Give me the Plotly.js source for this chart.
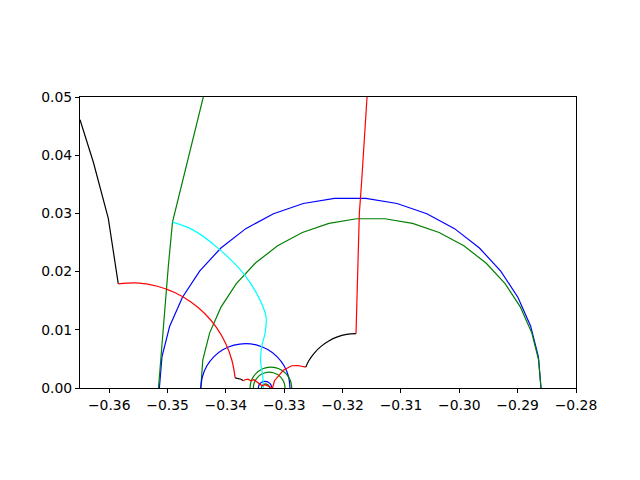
<!DOCTYPE html>
<html>
<head>
<meta charset="utf-8">
<script src="https://cdn.plot.ly/plotly-3.0.1.min.js"></script>
<style>html,body{margin:0;padding:0;background:#fff;}#chart{width:640px;height:480px;}</style>
</head>
<body>
<div id="chart"></div>
<script>
// ---- data ----
const blackTopX = [-0.3650, -0.36272, -0.36015, -0.35844];
const blackTopY = [0.0461, 0.03883, 0.02913, 0.0179];

const redArcX = [-0.35844, -0.35485, -0.35175, -0.34878, -0.34605, -0.34363, -0.34160, -0.34003, -0.33895, -0.33841];
const redArcY = [0.0179, 0.01803, 0.01748, 0.01640, 0.01483, 0.01280, 0.01038, 0.00765, 0.00468, 0.00175];

const blackSmallX = [-0.33841, -0.33792, -0.33741, -0.33701];
const blackSmallY = [0.00175, 0.00168, 0.00151, 0.00125];

const redBumpsX = [-0.33701, -0.33672, -0.33621, -0.33569, -0.33518, -0.33472, -0.33432, -0.33381, -0.33329, -0.33278, -0.33227, -0.33201,
                   -0.33167, -0.33102, -0.33016, -0.32872, -0.32764, -0.32630];
const redBumpsY = [0.00125, 0.00142, 0.00151, 0.00125, 0.00142, 0.00108, 0.00074, 0.00039, 0.00057, 0.00031, 0.00014, 0.0,
                   0.00125, 0.00199, 0.00305, 0.00382, 0.00386, 0.00360];

const blackArcX = [-0.32630, -0.32579, -0.32485, -0.32370, -0.32237, -0.32089, -0.31932, -0.31770];
const blackArcY = [0.00360, 0.00467, 0.00600, 0.00715, 0.00809, 0.00878, 0.00920, 0.00934];

const redRiseX = [-0.31770, -0.31748, -0.31713, -0.31672, -0.31581];
const redRiseY = [0.00934, 0.01856, 0.03000, 0.03570, 0.05000];

const greenRiseX = [-0.35155, -0.35072, -0.34987, -0.34915, -0.34644, -0.34387];
const greenRiseY = [0.0, 0.01114, 0.02084, 0.02850, 0.03969, 0.05000];

const cyanX = [-0.34915, -0.34558, -0.34130, -0.33701, -0.33444, -0.33312, -0.33329, -0.33386, -0.33406, -0.33369, -0.33355];
const cyanY = [0.02850, 0.02713, 0.02399, 0.01971, 0.01570, 0.01227, 0.00943, 0.00713, 0.00485, 0.00199, 0.0];

const blueBigX = [-0.35140, -0.35095, -0.34963, -0.34746, -0.34450, -0.34085, -0.33659, -0.33184, -0.32673, -0.32140,
                  -0.31600, -0.31067, -0.30556, -0.30081, -0.29655, -0.29290, -0.28994, -0.28777, -0.28645, -0.28600];
const blueBigY = [0.0, 0.00538, 0.01062, 0.01556, 0.02008, 0.02406, 0.02738, 0.02995, 0.03170, 0.03259,
                  0.03259, 0.03170, 0.02995, 0.02738, 0.02406, 0.02008, 0.01556, 0.01062, 0.00538, 0.0];

const greenBigX = [-0.34430, -0.34396, -0.34278, -0.34084, -0.33821, -0.33494, -0.33114, -0.32690, -0.32234, -0.31759,
                   -0.31277, -0.30802, -0.30346, -0.29922, -0.29542, -0.29215, -0.28952, -0.28758, -0.28640, -0.28600];
const greenBigY = [0.0, 0.00480, 0.00947, 0.01389, 0.01792, 0.02147, 0.02443, 0.02672, 0.02829, 0.02908,
                   0.02908, 0.02829, 0.02672, 0.02443, 0.02147, 0.01792, 0.01389, 0.00947, 0.00480, 0.0];

const blueMidX = [-0.34430, -0.34401, -0.34325, -0.34204, -0.34046, -0.33862, -0.33664, -0.33467, -0.33283, -0.33124, -0.33003, -0.32927, -0.32901];
const blueMidY = [0.0, 0.001975, 0.003815, 0.00540, 0.00661, 0.00737, 0.00763, 0.00737, 0.00661, 0.00540, 0.003815, 0.001975, 0.0];

const greenOuterX = [-0.33586, -0.33574, -0.33538, -0.33482, -0.33408, -0.33322, -0.33229, -0.33137, -0.33050, -0.32976, -0.32920, -0.32884, -0.32872];
const greenOuterY = [0.0, 0.000925, 0.001787, 0.002526, 0.003094, 0.003451, 0.003573, 0.003451, 0.003094, 0.002526, 0.001787, 0.000925, 0.0];

const greenInnerX = [-0.33530, -0.33520, -0.33493, -0.33450, -0.33394, -0.33328, -0.33258, -0.33188, -0.33122, -0.33066, -0.33023, -0.32996, -0.32986];
const greenInnerY = [0.0, 0.000703, 0.001358, 0.001920, 0.002352, 0.002623, 0.002716, 0.002623, 0.002352, 0.001920, 0.001358, 0.000703, 0.0];

const blueTinyX = [-0.33444, -0.33429, -0.33387, -0.33329, -0.33271, -0.33229, -0.33214];
const blueTinyY = [0.0, 0.000575, 0.000996, 0.00115, 0.000996, 0.000575, 0.0];

const greenTinyX = [-0.33391, -0.33382, -0.33356, -0.33321, -0.33286, -0.33260, -0.33251];
const greenTinyY = [0.0, 0.00035, 0.000606, 0.0007, 0.000606, 0.00035, 0.0];

const xTickVals = [-0.36, -0.35, -0.34, -0.33, -0.32, -0.31, -0.30, -0.29, -0.28];
const xTickText = ['\u22120.36', '\u22120.35', '\u22120.34', '\u22120.33', '\u22120.32', '\u22120.31', '\u22120.30', '\u22120.29', '\u22120.28'];
const yTickVals = [0.00, 0.01, 0.02, 0.03, 0.04, 0.05];
const yTickText = ['0.00', '0.01', '0.02', '0.03', '0.04', '0.05'];

// ---- styles ----
const K = '#000000', R = '#ff0000', G = '#008000', B = '#0000ff', C = '#00ffff';
const segs = [
  [blueBigX, blueBigY, B, 'linear'],
  [greenBigX, greenBigY, G, 'linear'],
  [blueMidX, blueMidY, B, 'spline'],
  [greenOuterX, greenOuterY, G, 'spline'],
  [greenInnerX, greenInnerY, G, 'spline'],
  [blueTinyX, blueTinyY, B, 'spline'],
  [greenTinyX, greenTinyY, G, 'spline'],
  [greenRiseX, greenRiseY, G, 'linear'],
  [cyanX, cyanY, C, 'spline'],
  [blackTopX, blackTopY, K, 'linear'],
  [redArcX, redArcY, R, 'spline'],
  [blackSmallX, blackSmallY, K, 'linear'],
  [redBumpsX, redBumpsY, R, 'linear'],
  [blackArcX, blackArcY, K, 'spline'],
  [redRiseX, redRiseY, R, 'linear']
];
const traces = segs.map(s => ({
  type: 'scatter', mode: 'lines', x: s[0], y: s[1],
  line: {color: s[2], width: 1.2, shape: s[3], smoothing: 1}, hoverinfo: 'skip'
}));

const axisCommon = {
  showgrid: false, zeroline: false, showline: true, mirror: true,
  linecolor: '#000', linewidth: 1, ticks: 'outside', ticklen: 4, tickwidth: 1,
  tickcolor: '#000', tickfont: {family: 'DejaVu Sans', size: 13.9, color: '#000'}
};
const layout = {
  width: 640, height: 480,
  margin: {l: 80, r: 64, t: 97, b: 92, pad: 0},
  paper_bgcolor: '#fff', plot_bgcolor: '#fff',
  showlegend: false,
  xaxis: Object.assign({}, axisCommon, {range: [-0.365, -0.28], tickmode: 'array', tickvals: xTickVals, ticktext: xTickText}),
  yaxis: Object.assign({}, axisCommon, {range: [0, 0.05], tickmode: 'array', tickvals: yTickVals, ticktext: yTickText})
};
Plotly.newPlot('chart', traces, layout, {staticPlot: true, displayModeBar: false});
</script>
</body>
</html>
